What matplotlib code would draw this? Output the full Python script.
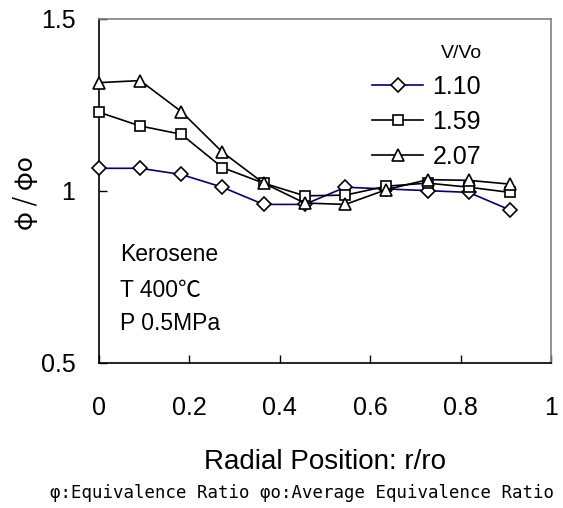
import matplotlib
matplotlib.use("Agg")
import matplotlib.pyplot as plt

plt.rcParams['font.family'] = ['Liberation Sans', 'Noto Sans CJK JP', 'DejaVu Sans']

# radial positions r/ro
r_pos = [0.0, 0.091, 0.182, 0.273, 0.364, 0.455, 0.545, 0.636, 0.727, 0.818, 0.909]

# phi / phi_o for each V/Vo
phi_110 = [1.066, 1.066, 1.048, 1.011, 0.961, 0.961, 1.011, 1.006, 1.001, 0.996, 0.945]
phi_159 = [1.229, 1.189, 1.165, 1.068, 1.023, 0.986, 0.988, 1.014, 1.023, 1.011, 0.996]
phi_207 = [1.315, 1.321, 1.231, 1.113, 1.023, 0.965, 0.961, 1.004, 1.033, 1.031, 1.020]

series = [
    {"label": "1.10", "data": phi_110, "color": "#000080", "marker": "D", "ms": 7},
    {"label": "1.59", "data": phi_159, "color": "black", "marker": "s", "ms": 7.5},
    {"label": "2.07", "data": phi_207, "color": "black", "marker": "^", "ms": 9},
]

fig = plt.figure(figsize=(5.63, 5.08), dpi=100)
ax = fig.add_axes([99 / 563, 1 - 363 / 508, 452 / 563, 344 / 508])

for s in series:
    ax.plot(r_pos, s["data"], label=s["label"], color=s["color"], lw=1.2,
            marker=s["marker"], ms=s["ms"], mfc="white", mec="black", mew=1.2,
            clip_on=False, zorder=3)

ax.set_xlim(0, 1)
ax.set_ylim(0.5, 1.5)
ax.set_xticks([0, 0.2, 0.4, 0.6, 0.8, 1])
ax.set_xticklabels(["0", "0.2", "0.4", "0.6", "0.8", "1"])
ax.set_yticks([0.5, 1, 1.5])
ax.set_yticklabels(["0.5", "1", "1.5"])
ax.tick_params(axis="both", direction="in", length=6, width=1, labelsize=18)
ax.tick_params(axis="x", pad=24)
ax.tick_params(axis="y", pad=17)
for side in ["left", "bottom"]:
    ax.spines[side].set_color("black")
    ax.spines[side].set_linewidth(1.2)
for side in ["top", "right"]:
    ax.spines[side].set_color("#808080")
    ax.spines[side].set_linewidth(1.2)

ax.set_xlabel("Radial Position: r/ro", fontsize=20, va="center")
ax.xaxis.set_label_coords(0.5, -(462 - 363) / 344)
ax.set_ylabel("φ / φo", fontsize=18, family=['Noto Sans CJK JP'], va="center")
ax.yaxis.set_label_coords(-(99 - 26) / 452, (363 - 193) / 344)

notes = ["Kerosene", "T 400℃", "P 0.5MPa"]
note_y = [0.314, 0.212, 0.116]
for txt, y in zip(notes, note_y):
    ax.text(0.046, y, txt, transform=ax.transAxes, fontsize=16.5, va="center", ha="left")

leg = ax.legend(loc="upper left", bbox_to_anchor=(0.604, 0.838), frameon=False,
                fontsize=18, handlelength=2.05, handletextpad=0.36,
                labelspacing=0.45, borderpad=0, borderaxespad=0)
ax.text((461 - 99) / 452, (363 - 53) / 344, "V/Vo", transform=ax.transAxes,
        fontsize=14, ha="center", va="center")

fig.text(50 / 563, 1 - 493 / 508, "φ:Equivalence Ratio φo:Average Equivalence Ratio",
         fontsize=12.5, ha="left", va="center", family=['DejaVu Sans Mono'])

fig.savefig("out.png", dpi=100)
